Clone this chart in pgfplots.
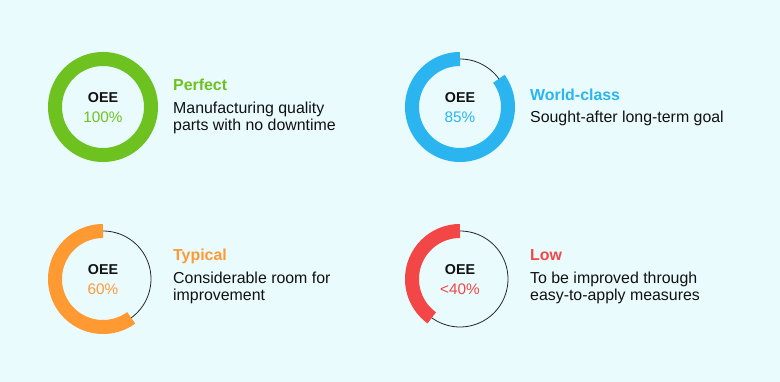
\documentclass[border=0pt]{standalone}
\usepackage{pgfplots}
\pgfplotsset{compat=1.18}
\usepackage{fontspec}
\setmainfont{Liberation Sans}
\definecolor{bg}{HTML}{EAFBFD}
\definecolor{cgreen}{HTML}{6DC21F}
\definecolor{cblue}{HTML}{2BB5F0}
\definecolor{corange}{HTML}{FF9A33}
\definecolor{cred}{HTML}{F34646}
\definecolor{txt}{HTML}{111111}
\begin{document}
\begin{tikzpicture}
\begin{axis}[scale only axis, width=780pt, height=382pt,
  xmin=0, xmax=780, ymin=0, ymax=382, hide axis, clip=false]
\fill[bg] (axis cs:0,0) rectangle (axis cs:780,382);
% thin base circles
\addplot[domain=0:360, samples=120, line width=0.8pt, black!85] ({460+48*cos(x)},{275+48*sin(x)});
\addplot[domain=0:360, samples=120, line width=0.8pt, black!85] ({103+48*cos(x)},{103+48*sin(x)});
\addplot[domain=0:360, samples=120, line width=0.8pt, black!85] ({460+48*cos(x)},{103+48*sin(x)});
% value arcs: from 90 deg counterclockwise by 3.6*value
\addplot[domain=90:452, samples=150, line width=14pt, cgreen] ({103+48*cos(x)},{275+48*sin(x)});
\addplot[domain=90:90+3.6*85, samples=130, line width=14pt, cblue] ({460+48*cos(x)},{275+48*sin(x)});
\addplot[domain=90:90+3.6*60, samples=100, line width=14pt, corange] ({103+48*cos(x)},{103+48*sin(x)});
\addplot[domain=90:90+3.6*40, samples=80, line width=14pt, cred] ({460+48*cos(x)},{103+48*sin(x)});
% center labels
\node[anchor=base, font=\fontsize{14.3}{16}\selectfont\bfseries, text=txt] at (axis cs:103,279) {OEE};
\node[anchor=base, font=\fontsize{15.3}{17}\selectfont, text=cgreen] at (axis cs:103,259) {100\%};
\node[anchor=base, font=\fontsize{14.3}{16}\selectfont\bfseries, text=txt] at (axis cs:460,279) {OEE};
\node[anchor=base, font=\fontsize{15.3}{17}\selectfont, text=cblue] at (axis cs:460,259) {85\%};
\node[anchor=base, font=\fontsize{14.3}{16}\selectfont\bfseries, text=txt] at (axis cs:103,107) {OEE};
\node[anchor=base, font=\fontsize{15.3}{17}\selectfont, text=corange] at (axis cs:103,87) {60\%};
\node[anchor=base, font=\fontsize{14.3}{16}\selectfont\bfseries, text=txt] at (axis cs:460,107) {OEE};
\node[anchor=base, font=\fontsize{15.3}{17}\selectfont, text=cred] at (axis cs:460,87) {<40\%};
% descriptions
\node[anchor=base west, inner sep=0pt, font=\fontsize{15.9}{18}\selectfont\bfseries, text=cgreen] at (axis cs:173,291) {Perfect};
\node[anchor=base west, inner sep=0pt, font=\fontsize{15.9}{18}\selectfont, text=txt] at (axis cs:173,268) {Manufacturing quality};
\node[anchor=base west, inner sep=0pt, font=\fontsize{15.9}{18}\selectfont, text=txt] at (axis cs:173,251) {parts with no downtime};
\node[anchor=base west, inner sep=0pt, font=\fontsize{15.9}{18}\selectfont\bfseries, text=cblue] at (axis cs:530,281) {World-class};
\node[anchor=base west, inner sep=0pt, font=\fontsize{15.9}{18}\selectfont, text=txt] at (axis cs:530,259) {Sought-after long-term goal};
\node[anchor=base west, inner sep=0pt, font=\fontsize{15.9}{18}\selectfont\bfseries, text=corange] at (axis cs:173,121) {Typical};
\node[anchor=base west, inner sep=0pt, font=\fontsize{15.9}{18}\selectfont, text=txt] at (axis cs:173,98) {Considerable room for};
\node[anchor=base west, inner sep=0pt, font=\fontsize{15.9}{18}\selectfont, text=txt] at (axis cs:173,81) {improvement};
\node[anchor=base west, inner sep=0pt, font=\fontsize{15.9}{18}\selectfont\bfseries, text=cred] at (axis cs:530,121) {Low};
\node[anchor=base west, inner sep=0pt, font=\fontsize{15.9}{18}\selectfont, text=txt] at (axis cs:530,98) {To be improved through};
\node[anchor=base west, inner sep=0pt, font=\fontsize{15.9}{18}\selectfont, text=txt] at (axis cs:530,81) {easy-to-apply measures};
\end{axis}
\end{tikzpicture}
\end{document}
